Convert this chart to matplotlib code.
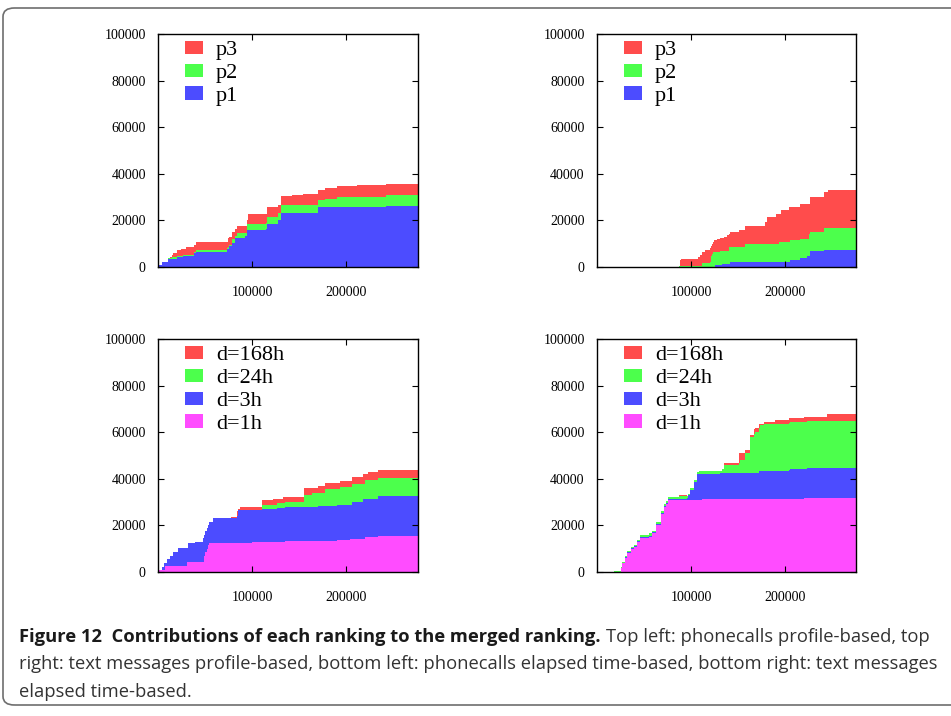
import numpy as np
import matplotlib
matplotlib.use('Agg')
import matplotlib.pyplot as plt
from matplotlib.patches import Patch, FancyBboxPatch

# Contributions of each ranking to the merged ranking (step data, per-layer counts)
X_MAX = 276000

# top left: phonecalls, profile-based
tl_x = [0, 3500, 9900, 10600, 12400, 14200, 16000, 19500, 24100, 26600, 29400,
        38300, 39700, 72700, 73800, 75200, 78700, 81600, 83300, 92200, 94000,
        95700, 114200, 115200, 127700, 130500, 141800, 154300, 170200, 177300,
        189700, 202100, 211000, 242900]
tl_p1 = [1000, 2100, 2100, 3600, 3600, 3600, 3600, 4300, 4300, 4600, 4600,
         6000, 6600, 7900, 7900, 9000, 10300, 12400, 12400, 13400, 15700,
         15700, 16300, 18600, 20300, 23100, 23100, 23100, 25600, 25600,
         25700, 25900, 25900, 26300]
tl_p2 = [0, 0, 0, 300, 300, 700, 700, 600, 600, 500, 500,
         500, 800, 100, 600, 600, 1700, 1100, 2200, 1200, 2900,
         2900, 2600, 2700, 2800, 3300, 3300, 3300, 3300, 3700,
         4200, 4300, 4300, 4400]
tl_p3 = [0, 0, 1000, 100, 400, 700, 1700, 2200, 3000, 2800, 3500,
         3000, 3300, 2700, 3900, 3400, 3000, 3000, 3100, 3100, 1700,
         4100, 3800, 4300, 3600, 3900, 4600, 5000, 4200, 4600,
         4700, 4400, 5100, 5000]

# top right: text messages, profile-based
tr_x = [0, 86900, 87900, 89400, 107100, 109200, 111700, 115200, 119900, 121300,
        122300, 123400, 124800, 125900, 127000, 131200, 133000, 134700, 138300,
        140100, 141100, 151100, 157800, 179100, 180800, 190800, 193300, 195800,
        203900, 205700, 216300, 223400, 225200, 226900, 241100, 245700]
tr_p1 = [0, 0, 0, 0, 0, 0, 0, 0, 0, 0,
         0, 0, 0, 1000, 1000, 1000, 1400, 1400, 1400,
         1400, 2100, 2100, 2100, 2100, 2100, 2100, 2100, 2100,
         2100, 2900, 3900, 4600, 4600, 6700, 7100, 7100]
tr_p2 = [0, 600, 600, 600, 600, 600, 1700, 1700, 2200, 4600,
         5500, 6400, 6400, 5400, 5400, 6000, 5600, 5600, 5600,
         7000, 6300, 6300, 7800, 7800, 7800, 7800, 8500, 8500,
         8500, 8500, 8200, 7500, 9500, 8200, 9800, 9800]
tr_p3 = [0, 0, 2500, 2700, 3700, 4600, 4600, 5400, 5900, 4200,
         4500, 4400, 5300, 5300, 5700, 5300, 5500, 5900, 6800,
         5900, 6600, 7600, 7800, 9600, 11400, 12800, 12100, 14000,
         15100, 14300, 15000, 15000, 13000, 15000, 15100, 16200]

# bottom left: phonecalls, elapsed time-based
bl_x = [0, 700, 3500, 6400, 7100, 8900, 12400, 16000, 21300, 30100, 31200,
        39000, 47900, 48900, 49600, 51400, 53200, 53900, 58500, 77300, 83300,
        85100, 86900, 99300, 109900, 122300, 125900, 133000, 134700, 155300,
        163100, 170200, 177300, 189700, 193300, 203900, 205700, 218100,
        219900, 223400, 234000]
bl_1h = [500, 1000, 1000, 1000, 2700, 2700, 2700, 2700, 2700, 4400, 4400,
         4400, 4400, 6700, 8500, 10000, 11500, 12400, 12400, 12400, 12400,
         12400, 12400, 12900, 12900, 12900, 12900, 12900, 13400, 13400,
         13400, 13400, 13400, 13900, 13900, 14300, 14300, 14300,
         15000, 15000, 15600]
bl_3h = [0, 0, 1100, 2900, 1200, 2900, 4300, 5700, 7600, 5900, 8000,
         8500, 10200, 9300, 8900, 9000, 8800, 9100, 10700, 10700, 11500,
         14300, 14300, 13800, 14100, 14100, 14700, 14700, 14500, 14500,
         14500, 15000, 15000, 15000, 15000, 14600, 15600, 17000,
         16300, 16300, 17100]
bl_24h = [0, 0, 0, 0, 0, 0, 0, 0, 0, 0, 0,
          0, 0, 0, 0, 0, 0, 0, 0, 0, 0,
          0, 0, 0, 1900, 1900, 2000, 2000, 2100, 5200,
          6000, 5500, 7200, 6700, 7500, 7500, 7800, 6400,
          8300, 8300, 7600]
bl_168h = [0, 0, 0, 0, 0, 0, 0, 0, 0, 0, 0,
           0, 0, 0, 0, 0, 0, 0, 0, 500, 2100,
           300, 1200, 1200, 1800, 2500, 1800, 2800, 2400, 2900,
           2100, 3100, 2600, 2600, 2800, 2800, 2900, 4300,
           2400, 3300, 3600]

# bottom right: text messages, elapsed time-based
br_x = [0, 17700, 24800, 26600, 29100, 31900, 35500, 39000, 42600, 45400,
        55000, 58500, 62100, 67400, 70900, 72700, 75200, 86900, 95700, 96800,
        99300, 102800, 106400, 108200, 111700, 131200, 133000, 134700, 145400,
        150700, 152500, 157800, 163100, 166700, 168400, 172000, 173800,
        177300, 189700, 203900, 205700, 219900, 223400, 244700]
br_1h = [0, 0, 1600, 3700, 5900, 8000, 9700, 10900, 12800, 14700,
         15100, 16600, 20100, 25100, 27800, 29400, 30900, 30900, 30900, 30900,
         30900, 30900, 30900, 30900, 31200, 31200, 31200, 31200, 31200,
         31200, 31200, 31200, 31200, 31200, 31200, 31200, 31300,
         31300, 31300, 31300, 31300, 31600, 31900, 31900]
br_3h = [0, 0, 200, 300, 400, 400, 400, 400, 400, 400,
         400, 400, 400, 400, 400, 400, 400, 400, 1000, 2100,
         4300, 7800, 11100, 11100, 10800, 11100, 11100, 11100, 11100,
         11100, 11100, 11100, 11100, 11100, 11100, 12100, 12000,
         12000, 12000, 12300, 12700, 12400, 12700, 12700]
br_24h = [0, 600, 500, 500, 500, 500, 500, 500, 500, 1000,
          1100, 800, 800, 800, 800, 700, 1000, 1300, 700, 500,
          800, 700, 800, 1300, 1300, 1000, 1700, 3600, 3600,
          4300, 5700, 8600, 15700, 16900, 17900, 18500, 19700,
          20100, 20400, 20400, 20200, 20200, 20100, 20100]
br_168h = [0, 0, 0, 0, 0, 0, 0, 0, 0, 0,
           0, 0, 0, 0, 0, 0, 0, 400, 0, 0,
           0, 0, 0, 0, 0, 0, 0, 700, 1100,
           4300, 2900, 1400, 800, 2000, 1800, 1600, 600,
           1000, 1500, 1900, 1700, 2400, 1900, 3000]

RED = '#ff4c4c'
GREEN = '#4cff4c'
BLUE = '#4c4cff'
MAGENTA = '#ff4cff'

plt.rcParams['font.family'] = ['Liberation Serif', 'DejaVu Serif']


def stacked_steps(ax, x, layers, colors, labels):
    x = np.append(np.asarray(x, dtype=float), X_MAX)
    bottom = np.zeros(len(x))
    for values, color in zip(layers, colors):
        v = np.asarray(values, dtype=float)
        v = np.append(v, v[-1])
        top = bottom + v
        ax.fill_between(x, bottom, top, step='post', color=color, linewidth=0)
        bottom = top

    ax.set_xlim(0, X_MAX)
    ax.set_ylim(0, 100000)
    ax.set_xticks([100000, 200000])
    ax.set_yticks(range(0, 100001, 20000))
    ax.tick_params(direction='in', length=4, width=0.8, top=True, right=True,
                   labelsize=10)
    ax.tick_params(axis='y', pad=9)
    ax.tick_params(axis='x', pad=14)
    for spine in ax.spines.values():
        spine.set_linewidth(1.0)

    handles = [Patch(facecolor=c, edgecolor='none') for c in colors]
    ax.legend(handles[::-1], labels[::-1], loc='upper left',
              bbox_to_anchor=(0.098, 0.976), frameon=False, fontsize=16,
              handlelength=0.8, handleheight=0.55, handletextpad=0.6,
              labelspacing=0.15, borderpad=0.05, borderaxespad=0)


fig = plt.figure(figsize=(9.51, 7.16), dpi=100)

w, h = 0.2726, 0.3254
ax_tl = fig.add_axes([0.1665, 0.6271, w, h])
ax_tr = fig.add_axes([0.628, 0.6271, w, h])
ax_bl = fig.add_axes([0.1665, 0.2011, w, h])
ax_br = fig.add_axes([0.628, 0.2011, w, h])

stacked_steps(ax_tl, tl_x, [tl_p1, tl_p2, tl_p3], [BLUE, GREEN, RED],
              ['p1', 'p2', 'p3'])
stacked_steps(ax_tr, tr_x, [tr_p1, tr_p2, tr_p3], [BLUE, GREEN, RED],
              ['p1', 'p2', 'p3'])
elapsed_labels = ['d=1h', 'd=3h', 'd=24h', 'd=168h']
stacked_steps(ax_bl, bl_x, [bl_1h, bl_3h, bl_24h, bl_168h],
              [MAGENTA, BLUE, GREEN, RED], elapsed_labels)
stacked_steps(ax_br, br_x, [br_1h, br_3h, br_24h, br_168h],
              [MAGENTA, BLUE, GREEN, RED], elapsed_labels)

# rounded frame around figure and caption
W, H = 951, 716
frame = FancyBboxPatch((3 / W, (H - 705) / H), 1.2, (705 - 8) / H,
                       boxstyle='round,pad=0,rounding_size=0.012',
                       transform=fig.transFigure, facecolor='none',
                       edgecolor='#6e6e6e', linewidth=1.2, clip_on=False)
fig.patches.append(frame)

cap_font = ['Open Sans', 'DejaVu Sans']
cap_size = 13.2
x0 = 19 / W
bold = fig.text(x0, 1 - 642 / H, 'Figure 12  Contributions of each ranking to the merged ranking.',
                family=cap_font, fontsize=cap_size, fontweight='bold',
                color='#1a1a1a', va='baseline')
renderer = fig.canvas.get_renderer()
bb = bold.get_window_extent(renderer)
x1 = (bb.x1 + 5) / W
fig.text(x1, 1 - 642 / H, 'Top left: phonecalls profile-based, top',
         family=cap_font, fontsize=cap_size, color='#333333', va='baseline')
fig.text(x0, 1 - 669 / H,
         'right: text messages profile-based, bottom left: phonecalls elapsed time-based, bottom right: text messages',
         family=cap_font, fontsize=cap_size, color='#333333', va='baseline')
fig.text(x0, 1 - 697 / H, 'elapsed time-based.',
         family=cap_font, fontsize=cap_size, color='#333333', va='baseline')

fig.savefig('out.png', dpi=100)
